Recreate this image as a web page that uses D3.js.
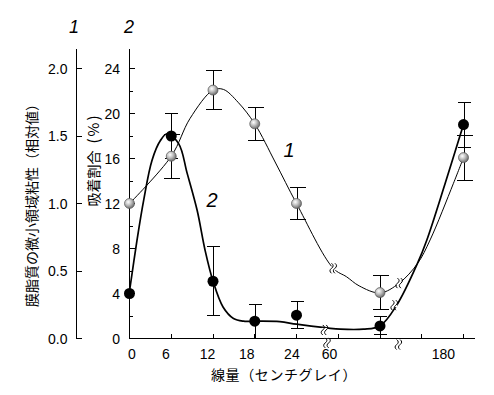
<!DOCTYPE html>
<html><head><meta charset="utf-8">
<script src="https://cdn.jsdelivr.net/npm/d3@7/dist/d3.min.js"></script>
<style>
html,body{margin:0;padding:0;background:#fff;}
svg{display:block;}
</style></head>
<body>
<svg id="chart" width="494" height="395"></svg>
<script>
// ---- data ----
// x positions are slots on the broken dose axis (tick slots 0..8)
const doseSlots = [0, 1, 2, 3, 4, 6, 8];
const xTickSlots = [0, 1, 2, 3, 4, 5, 6, 7, 8];
const doseLabels = ["0", "6", "12", "18", "24", "60", "180"];
const doseLabelSlots = [0.06, 0.87, 1.87, 2.81, 3.89, 4.79, 7.52];

// series 1: membrane lipid micro-viscosity (relative, left axis)
const viscosity = [1.00, 1.35, 1.84, 1.59, 1.00, 0.34, 1.34];
const viscosityErr = [0, 0.163, 0.146, 0.12, 0.12, 0.123, 0.167];
// series 2: adsorption ratio (%), right axis
const adsorption = [4.0, 18.0, 5.09, 1.54, 2.07, 1.12, 19.02];
const adsorptionErr = [0, 2.0, 3.05, 1.5, 1.2, 0.8, 2.0];

// fitted (hand-drawn) curves
const viscFitSlots = [0, 1.0, 1.45, 2.0, 2.25, 2.6, 3.0, 3.5, 4.0, 4.88, 5.2, 5.5, 6.0, 6.46, 6.9, 7.2, 7.76, 8.0];
const viscFitVals  = [1.00, 1.35, 1.63, 1.84, 1.845, 1.75, 1.59, 1.30, 1.0, 0.52, 0.457, 0.39, 0.3375, 0.41, 0.556, 0.73, 1.15, 1.34];
const adsFitSlots = [0, 0.18, 0.34, 0.54, 0.74, 0.9, 1.18, 1.38, 1.62, 1.81, 2.0, 2.24, 2.49, 2.73, 3.0, 3.6, 4.0, 4.73, 5.05, 5.6, 6.0, 6.4, 6.9, 7.12, 7.56, 8.0];
const adsFitVals  = [4.2, 8.74, 12.3, 15.85, 17.6, 18.2, 17.3, 14.7, 11.4, 7.85, 5.1, 2.8, 1.78, 1.54, 1.54, 1.5, 1.27, 0.94, 0.83, 0.83, 1.12, 2.96, 6.7, 8.74, 13.78, 19.02];

// break marks: [slot, value]
const axisBreaks = [[4.73, -0.3], [6.44, -0.45]];
const viscBreaks = [[4.88, 0.52], [6.46, 0.41]];   // left-axis units
const adsBreaks  = [[4.67, 0.76], [6.34, 2.96]];

const leftTicks = [0, 0.5, 1.0, 1.5, 2.0];
const rightTicks = [0, 4, 8, 12, 16, 20, 24];
const rightMinorTicks = [2, 6, 10, 14, 18, 22];

const leftTitle = "膜脂質の微小領域粘性（相対値）";
const rightTitleMain = "吸着割合";
const rightTitleUnit = "(%)";
const xTitle = "線量（センチグレイ）";

// ---- scales ----
const svg = d3.select("#chart");
const x = d3.scaleLinear().domain([0, 8]).range([129.5, 463.5]);
const yR = d3.scaleLinear().domain([0, 24]).range([338.5, 68.5]);
const yL = d3.scaleLinear().domain([0, 2]).range([338.5, 68.5]);
const axTop = yR(25.7);
const numFont = "'Liberation Sans', Arial, sans-serif";
const cjkFont = "'Noto Sans CJK JP', sans-serif";

const defs = svg.append("defs");
const grad = defs.append("radialGradient").attr("id", "gball")
  .attr("cx", "38%").attr("cy", "35%").attr("r", "65%");
grad.append("stop").attr("offset", "0%").attr("stop-color", "#ffffff");
grad.append("stop").attr("offset", "45%").attr("stop-color", "#c4c4c4");
grad.append("stop").attr("offset", "100%").attr("stop-color", "#6e6e6e");

// ---- axes ----
const axG = svg.append("g").attr("shape-rendering", "crispEdges").attr("stroke", "#000");
const xL = 76.5;
axG.append("line").attr("x1", xL).attr("x2", xL).attr("y1", axTop).attr("y2", yL(0));
axG.selectAll(".lt").data(leftTicks).join("line")
  .attr("x1", xL).attr("x2", xL + 5).attr("y1", d => yL(d)).attr("y2", d => yL(d));
svg.selectAll(".ltl").data(leftTicks).join("text")
  .attr("x", xL - 9).attr("y", d => yL(d) + 5)
  .attr("text-anchor", "end").attr("font-family", numFont).attr("font-size", 14)
  .text(d => d.toFixed(1));

const xR = x(0);
axG.append("line").attr("x1", xR).attr("x2", xR).attr("y1", axTop).attr("y2", yR(0));
axG.selectAll(".rt").data(rightTicks).join("line")
  .attr("x1", xR).attr("x2", xR + 5.5).attr("y1", d => yR(d)).attr("y2", d => yR(d));
axG.selectAll(".rmt").data(rightMinorTicks).join("line")
  .attr("x1", xR).attr("x2", xR + 3).attr("y1", d => yR(d)).attr("y2", d => yR(d));
svg.selectAll(".rtl").data(rightTicks).join("text")
  .attr("x", xR - 9.5).attr("y", d => yR(d) + 5)
  .attr("text-anchor", "end").attr("font-family", numFont).attr("font-size", 14)
  .text(d => d);

axG.append("line").attr("x1", x(0)).attr("x2", x(8.28)).attr("y1", yR(0)).attr("y2", yR(0));
axG.selectAll(".xt").data(xTickSlots).join("line")
  .attr("x1", d => x(d)).attr("x2", d => x(d)).attr("y1", yR(0)).attr("y2", yR(0) - 5);
svg.selectAll(".xtl").data(doseLabels).join("text")
  .attr("x", (d, i) => x(doseLabelSlots[i])).attr("y", 359)
  .attr("text-anchor", "middle").attr("font-family", numFont).attr("font-size", 14)
  .text(d => d);

// titles
svg.append("text").attr("transform", `translate(37,202) rotate(-90)`)
  .attr("text-anchor", "middle").attr("font-family", cjkFont).attr("font-size", 14)
  .text(leftTitle);
const rt = svg.append("text").attr("transform", `translate(99,160) rotate(-90)`)
  .attr("text-anchor", "middle").attr("font-family", cjkFont).attr("font-size", 14);
rt.append("tspan").text(rightTitleMain);
rt.append("tspan").attr("dx", 7).attr("letter-spacing", 2).attr("font-size", 15).text(rightTitleUnit);
svg.append("text").attr("x", 284).attr("y", 380)
  .attr("text-anchor", "middle").attr("font-family", cjkFont).attr("font-size", 14)
  .attr("letter-spacing", 0.6)
  .text(xTitle);
svg.append("text").attr("x", 74).attr("y", 33).attr("text-anchor", "middle")
  .attr("font-family", numFont).attr("font-style", "italic").attr("font-size", 18).text("1");
svg.append("text").attr("x", 129).attr("y", 33).attr("text-anchor", "middle")
  .attr("font-family", numFont).attr("font-style", "italic").attr("font-size", 18).text("2");
svg.append("text").attr("x", 289).attr("y", 157).attr("text-anchor", "middle")
  .attr("font-family", numFont).attr("font-style", "italic").attr("font-size", 20).text("1");
svg.append("text").attr("x", 212).attr("y", 207).attr("text-anchor", "middle")
  .attr("font-family", numFont).attr("font-style", "italic").attr("font-size", 20).text("2");

// ---- curves ----
const viscLine = d3.line().x(d => x(d[0])).y(d => yL(d[1])).curve(d3.curveCatmullRom.alpha(0.5));
const adsLine = d3.line().x(d => x(d[0])).y(d => yR(d[1])).curve(d3.curveCatmullRom.alpha(0.5));
svg.append("path").datum(viscFitSlots.map((s, i) => [s, viscFitVals[i]]))
  .attr("d", viscLine).attr("fill", "none").attr("stroke", "#000").attr("stroke-width", 1);
svg.append("path").datum(adsFitSlots.map((s, i) => [s, adsFitVals[i]]))
  .attr("d", adsLine).attr("fill", "none").attr("stroke", "#000").attr("stroke-width", 1.7);

// break marks
function breakMark(g, px, py) {
  const w = 1.6, h = 5;
  [-1.7, 1.7].forEach(dx => {
    g.append("path")
      .attr("d", `M${px + dx},${py - h} q${w * 2},${h / 2} 0,${h} q${-w * 2},${h / 2} 0,${h}`)
      .attr("fill", "none").attr("stroke", "#000").attr("stroke-width", 1);
  });
}
const bg = svg.append("g");
axisBreaks.forEach(d => {
  bg.append("rect").attr("x", x(d[0]) - 3).attr("y", yR(d[1]) - 3).attr("width", 6).attr("height", 6).attr("fill", "#fff");
  breakMark(bg, x(d[0]), yR(d[1]) + 1);
});
viscBreaks.forEach(d => {
  bg.append("rect").attr("x", x(d[0]) - 3).attr("y", yL(d[1]) - 2).attr("width", 6).attr("height", 4).attr("fill", "#fff");
  breakMark(bg, x(d[0]), yL(d[1]));
});
adsBreaks.forEach(d => {
  bg.append("rect").attr("x", x(d[0]) - 3).attr("y", yR(d[1]) - 2).attr("width", 6).attr("height", 4).attr("fill", "#fff");
  breakMark(bg, x(d[0]), yR(d[1]));
});

// ---- error bars ----
function errorBars(vals, errs, scale, half) {
  const g = svg.append("g").attr("stroke", "#000").attr("stroke-width", 1).attr("shape-rendering", "crispEdges");
  vals.forEach((v, i) => {
    if (!errs[i]) return;
    const cx = Math.round(x(doseSlots[i])) + 0.5;
    const top = scale(v + errs[i]), bot = scale(Math.max(0, v - errs[i]));
    g.append("line").attr("x1", cx).attr("x2", cx).attr("y1", top).attr("y2", bot);
    g.append("line").attr("x1", cx - half).attr("x2", cx + half).attr("y1", top).attr("y2", top);
    g.append("line").attr("x1", cx - half).attr("x2", cx + half).attr("y1", bot).attr("y2", bot);
  });
}
errorBars(viscosity, viscosityErr, yL, 8);
errorBars(adsorption, adsorptionErr, yR, 6.5);

// ---- points ----
svg.selectAll(".pv").data(viscosity).join("circle")
  .attr("cx", (d, i) => x(doseSlots[i])).attr("cy", d => yL(d)).attr("r", 5)
  .attr("fill", "url(#gball)").attr("stroke", "#555").attr("stroke-width", 0.7);
svg.selectAll(".pa").data(adsorption).join("circle")
  .attr("cx", (d, i) => x(doseSlots[i])).attr("cy", d => yR(d)).attr("r", 5.5)
  .attr("fill", "#000");
</script>
</body></html>
